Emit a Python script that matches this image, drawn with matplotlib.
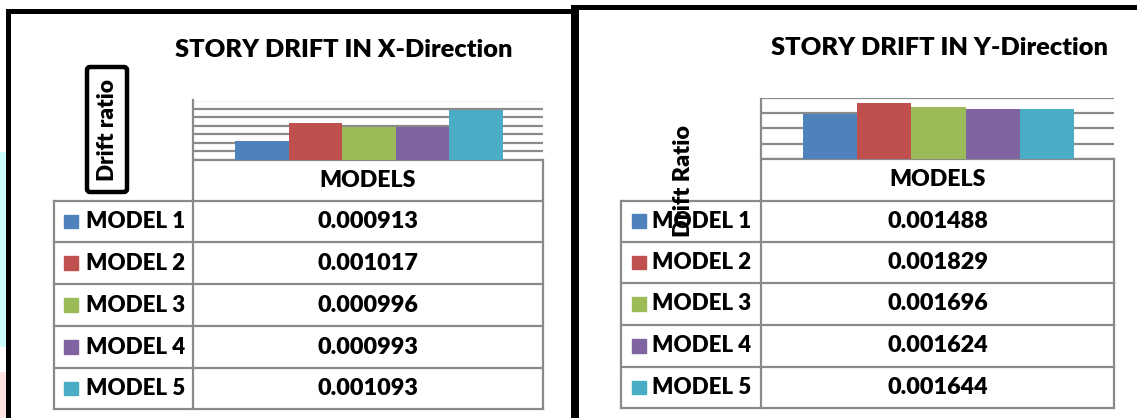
import numpy as np
import matplotlib
matplotlib.use("Agg")
import matplotlib.pyplot as plt
from matplotlib.patches import Rectangle, FancyBboxPatch

# ---------------- data ----------------
models = ["MODEL 1", "MODEL 2", "MODEL 3", "MODEL 4", "MODEL 5"]
drift_x = [0.000913, 0.001017, 0.000996, 0.000993, 0.001093]
drift_y = [0.001488, 0.001829, 0.001696, 0.001624, 0.001644]
colors = ["#4F81BD", "#C0504D", "#9BBB59", "#8064A2", "#4BACC6"]
title_x = "STORY DRIFT IN X-Direction"
title_y = "STORY DRIFT IN Y-Direction"
header = "MODELS"
ylabel_x = "Drift ratio"
ylabel_y = "Drift Ratio"
xticks_left = np.arange(0.0008, 0.00115 + 1e-9, 0.00005)
xticks_right = np.arange(0.0, 0.002 + 1e-9, 0.0005)

W, H = 1137, 418
plt.rcParams['font.family'] = ['Lato', 'DejaVu Sans']
fig = plt.figure(figsize=(W / 100, H / 100), dpi=100)
fig.patch.set_facecolor("white")

ov = fig.add_axes([0, 0, 1, 1])
ov.set_xlim(0, W)
ov.set_ylim(H, 0)
ov.axis("off")
ov.patch.set_alpha(0)

GRAY = "#8a8a8a"
LW = 1.6
FW = "heavy"


def px_axes(x0, y0, x1, y1):
    return fig.add_axes([x0 / W, 1 - y1 / H, (x1 - x0) / W, (y1 - y0) / H])


def bar_panel(box, values, ylim, ticks, margins):
    x0, y0, x1, y1 = box
    ax = px_axes(x0, y0, x1, y1)
    ax.patch.set_alpha(0)
    pos = np.arange(len(values))
    ax.bar(pos, [v - ylim[0] for v in values], bottom=ylim[0], width=1.0,
           color=colors, edgecolor="none", zorder=3)
    ax.set_ylim(*ylim)
    ax.set_xlim(-0.5 - margins[0], len(values) - 0.5 + margins[1])
    ax.set_yticks(ticks)
    ax.yaxis.grid(True, color=GRAY, linewidth=LW)
    ax.set_axisbelow(True)
    ax.tick_params(left=False, bottom=False, labelleft=False, labelbottom=False)
    for s in ax.spines.values():
        s.set_visible(False)
    return ax


def table(xl, xd, xr, y_head, rows, vals, sw_x, txt_x, title, title_xy, fs_title):
    c = dict(color=GRAY, lw=LW, solid_capstyle="projecting", zorder=2)
    ov.plot([xd, xd], [y_head - 60, rows[-1]], **c)
    ov.plot([xr, xr], [y_head, rows[-1]], **c)
    ov.plot([xl, xl], [rows[0], rows[-1]], **c)
    ov.plot([xd, xr], [y_head, y_head], **c)
    for y in rows:
        ov.plot([xl, xr], [y, y], **c)
    xc = (xd + xr) / 2
    ov.text(xc, (y_head + rows[0]) / 2, header, ha="center", va="center",
            fontsize=16.6, fontweight=FW, color="black")
    for i, (m, v) in enumerate(zip(models, vals)):
        yc = (rows[i] + rows[i + 1]) / 2
        ov.add_patch(Rectangle((sw_x, yc - 7), 13.5, 13.5, color=colors[i], zorder=3))
        ov.text(txt_x, yc, m, ha="left", va="center", fontsize=16,
                fontweight=FW, color="black")
        ov.text(xc, yc, f"{v:.6f}", ha="center", va="center", fontsize=16.8,
                fontweight=FW, color="black")
    ov.text(title_xy[0], title_xy[1], title, ha="center", va="center",
            fontsize=fs_title, fontweight=FW, color="black")


# ---------------- left panel ----------------
bar_panel((193, 100.5, 543, 160), drift_x, (0.0008, 0.00115), xticks_left,
          (42 / 53.6, 40 / 53.6))
table(54, 193, 543, 160, [201, 242, 284, 326, 368, 409], drift_x,
      64, 86, title_x, (343.5, 50), 18.3)
ov.add_patch(FancyBboxPatch((87, 67), 40, 125, boxstyle="round,pad=0,rounding_size=3",
                            facecolor="white", edgecolor="black", lw=3.2, zorder=4))
ov.text(107, 130, ylabel_x, rotation=90, ha="center", va="center", fontsize=16.3,
        fontweight=FW, color="black", zorder=5)

# ---------------- right panel ----------------
bar_panel((761, 98, 1114, 159), drift_y, (0.0, 0.002), xticks_right,
          (42 / 54.2, 40 / 54.2))
table(621, 761, 1114, 159, [200.5, 242, 283, 325, 367, 408], drift_y,
      632, 652, title_y, (939.5, 48), 18.3)
ov.text(683, 181, ylabel_y, rotation=90, ha="center", va="center", fontsize=16.8,
        fontweight=FW, color="black", zorder=6)

# ---------------- frame borders / screenshot edges ----------------
ov.add_patch(Rectangle((0, 152), 5.5, 195, color="#ccffff", lw=0, zorder=1))
ov.add_patch(Rectangle((0, 372), 5.5, 46, color="#ffe2e2", lw=0, zorder=1))
ov.add_patch(Rectangle((6, 9), 5, H - 9, color="black", lw=0, zorder=7))
ov.add_patch(Rectangle((6, 9), 568, 5, color="black", lw=0, zorder=7))
ov.add_patch(Rectangle((571, 5), 8, H - 5, color="black", lw=0, zorder=7))
ov.add_patch(Rectangle((573, 5), W - 573, 4.5, color="black", lw=0, zorder=7))

fig.savefig("out.png", dpi=100, facecolor="white")
